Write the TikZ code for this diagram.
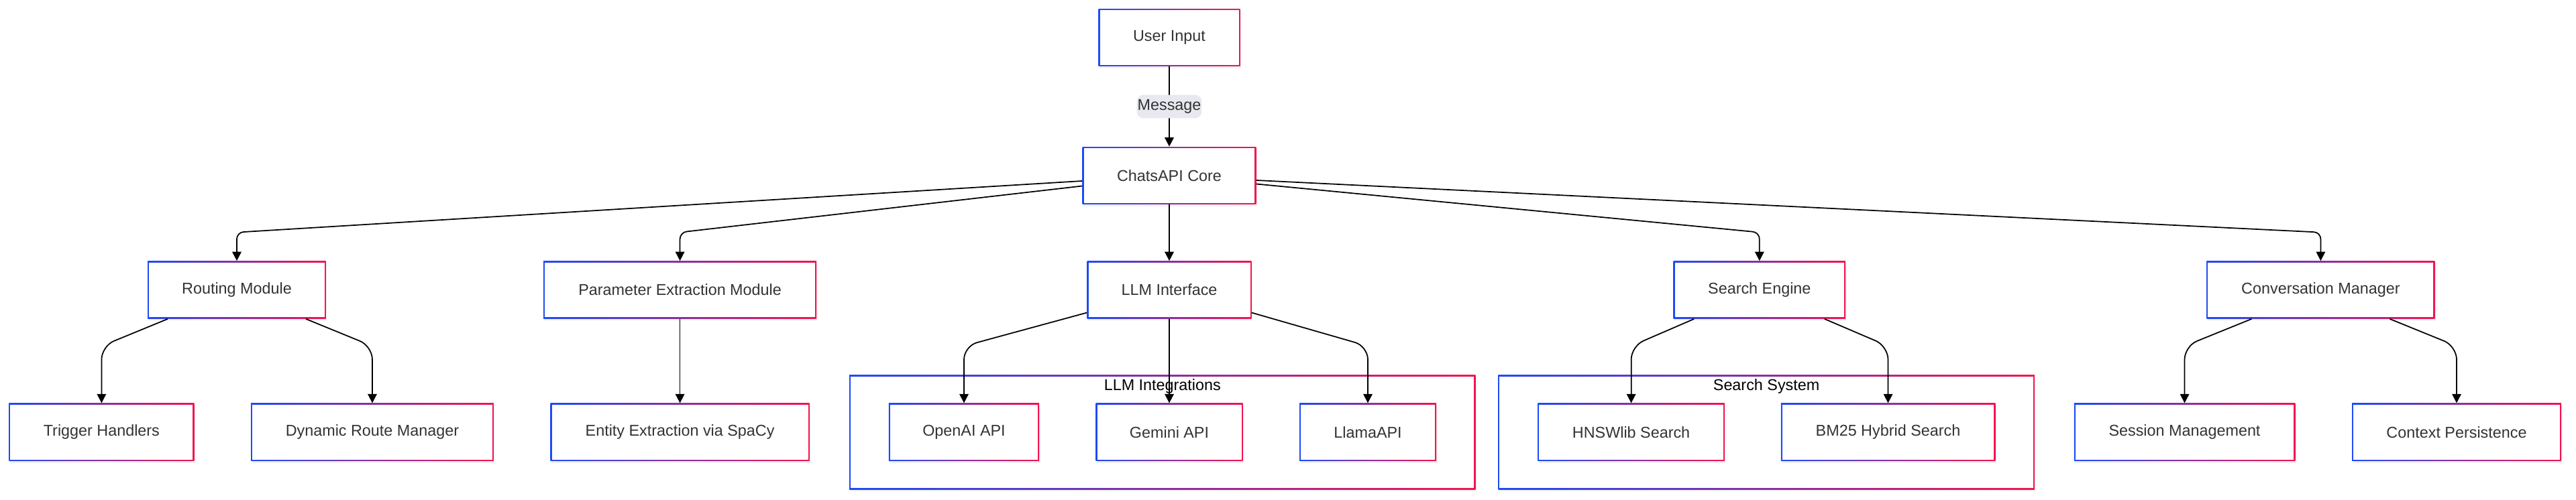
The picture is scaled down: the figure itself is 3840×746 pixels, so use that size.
\documentclass[tikz,border=0pt]{standalone}
\usepackage{fontspec}
\setmainfont{Liberation Sans}
\usetikzlibrary{arrows.meta, shadows}

\definecolor{borderblue}{RGB}{30,75,245}
\definecolor{borderred}{RGB}{245,20,80}
\definecolor{labelgray}{RGB}{232,232,240}
\definecolor{textgray}{RGB}{51,51,51}

\begin{document}
\begin{tikzpicture}[x=0.02cm, y=-0.02cm]

\tikzset{module/.style = {shape=rectangle, inner sep=0pt, minimum height=1.72cm,
    left color=borderblue, right color=borderred, text=textgray,
    font=\fontsize{13.3}{16}\selectfont,
    drop shadow={opacity=0.12, shadow xshift=0.03cm, shadow yshift=-0.06cm},
    path picture={\fill[white] ([shift={(0.04cm,0.04cm)}]path picture bounding box.south west)
      rectangle ([shift={(-0.04cm,-0.04cm)}]path picture bounding box.north east);}}}
\tikzset{group/.style = {module, minimum height=3.41cm}}
\tikzset{grouptitle/.style = {inner sep=0pt, text=black, font=\fontsize{13.3}{16}\selectfont}}
\tikzset{edge/.style = {draw=black, line width=0.035cm, rounded corners=0.2cm,
    -{Triangle[length=0.27cm, width=0.27cm]}}}
\tikzset{lowedge/.style = {edge, rounded corners=0.4cm}}

\useasboundingbox (0,0) rectangle (3840,746);

%clusters
\node[group, minimum width=18.67cm] (llmgroup) at (1732.8,644.9) {};
\node[grouptitle] (llmtitle) at (1732.8,576.7) {LLM Integrations};
\node[group, minimum width=15.99cm] (searchgroup) at (2633.1,644.9) {};
\node[grouptitle] (searchtitle) at (2633.1,576.7) {Search System};

%modules
\node[module, minimum width=4.22cm] (user) at (1743,56) {User Input};
\node[module, minimum width=5.18cm] (core) at (1743,262) {ChatsAPI Core};

\node[module, minimum width=5.32cm] (route) at (353,432.5) {Routing Module};
\node[module, minimum width=8.14cm] (param) at (1013.6,432.5) {Parameter Extraction Module};
\node[module, minimum width=4.9cm] (llm) at (1743,432.5) {LLM Interface};
\node[module, minimum width=5.13cm] (search) at (2622.8,432.5) {Search Engine};
\node[module, minimum width=6.8cm] (conv) at (3459.4,432.5) {Conversation Manager};

\node[module, minimum width=5.52cm] (trigger) at (151.4,644.7) {Trigger Handlers};
\node[module, minimum width=7.24cm] (dynroute) at (555,644.7) {Dynamic Route Manager};
\node[module, minimum width=7.72cm] (entity) at (1013.6,644.7) {Entity Extraction via SpaCy};
\node[module, minimum width=4.49cm] (openai) at (1437,644.7) {OpenAI API};
\node[module, minimum width=4.38cm] (gemini) at (1743,644.7) {Gemini API};
\node[module, minimum width=4.08cm] (llama) at (2039,644.7) {LlamaAPI};
\node[module, minimum width=5.57cm] (hnsw) at (2431.6,644.7) {HNSWlib Search};
\node[module, minimum width=6.39cm] (bm25) at (2814.5,644.7) {BM25 Hybrid Search};
\node[module, minimum width=6.59cm] (session) at (3256.5,644.7) {Session Management};
\node[module, minimum width=6.24cm] (context) at (3662,644.7) {Context Persistence};

%edges
\draw[edge] (user) -- (core) node[midway, fill=labelgray, text=textgray, inner xsep=0.02cm,
    inner ysep=0pt, minimum height=0.7cm, font=\fontsize{13.3}{16}\selectfont] (msg) {Message};

\draw[edge] ([yshift=-0.16cm]core.west) -- ([yshift=0.85cm]route.north) -- (route.north);
\draw[edge] ([yshift=-0.31cm]core.west) -- ([yshift=0.85cm]param.north) -- (param.north);
\draw[edge] (core) -- (llm);
\draw[edge] ([yshift=-0.25cm]core.east) -- ([yshift=0.85cm]search.north) -- (search.north);
\draw[edge] ([yshift=-0.14cm]core.east) -- ([yshift=0.85cm]conv.north) -- (conv.north);

\draw[lowedge] ([xshift=-2.06cm]route.south) -- ([yshift=1.7cm]trigger.north) -- (trigger.north);
\draw[lowedge] ([xshift=2.06cm]route.south) -- ([yshift=1.7cm]dynroute.north) -- (dynroute.north);
\draw[edge] (param) -- (entity);
\draw[lowedge] ([yshift=-0.68cm]llm.west) -- ([yshift=1.7cm]openai.north) -- (openai.north);
\draw[edge] (llm) -- (gemini);
\draw[lowedge] ([yshift=-0.68cm]llm.east) -- ([yshift=1.7cm]llama.north) -- (llama.north);
\draw[lowedge] ([xshift=-1.95cm]search.south) -- ([yshift=1.7cm]hnsw.north) -- (hnsw.north);
\draw[lowedge] ([xshift=1.94cm]search.south) -- ([yshift=1.7cm]bm25.north) -- (bm25.north);
\draw[lowedge] ([xshift=-2.06cm]conv.south) -- ([yshift=1.7cm]session.north) -- (session.north);
\draw[lowedge] ([xshift=2.06cm]conv.south) -- ([yshift=1.7cm]context.north) -- (context.north);

\end{tikzpicture}
\end{document}
